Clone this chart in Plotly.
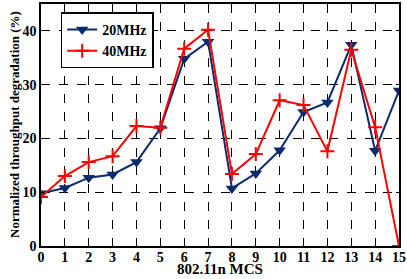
import plotly.graph_objects as go

mcs = list(range(16))
tick_labels = [str(i) for i in mcs]
deg_20mhz = [9.8, 10.8, 12.7, 13.3, 15.6, 21.9, 34.8, 38.0, 10.7, 13.5, 17.8, 24.9, 26.7, 37.4, 17.7, 28.9]
deg_40mhz = [9.1, 13.0, 15.6, 16.7, 22.3, 22.0, 36.7, 40.2, 13.4, 17.1, 27.1, 26.2, 17.6, 36.5, 22.1, 0.0]

font = dict(family="Liberation Serif", size=13, color="black")

fig = go.Figure()
fig.add_trace(go.Scatter(x=mcs, y=deg_20mhz, name="<b>20MHz</b>", mode="lines+markers",
                         line=dict(color="#0c2a6e", width=2),
                         marker=dict(symbol="triangle-down", size=11, color="#0c2a6e")))
fig.add_trace(go.Scatter(x=mcs, y=deg_40mhz, name="<b>40MHz</b>", mode="lines+markers",
                         line=dict(color="#ff0000", width=2),
                         marker=dict(symbol="cross-thin", size=10, color="#ff0000",
                                     line=dict(color="#ff0000", width=2))))

axis_common = dict(showline=True, linecolor="black", linewidth=1.5, mirror="ticks",
                   showgrid=True, gridcolor="black", griddash="dash", gridwidth=1,
                   ticks="inside", ticklen=3, tickcolor="black", tickwidth=1,
                   zeroline=False, automargin=False,
                   tickfont=dict(family="Liberation Serif", size=14, color="black"))

fig.update_xaxes(range=[0, 15], tickvals=mcs, ticktext=[f"<b>{t}</b>" for t in tick_labels],
                 ticklabelstandoff=-3, **axis_common)
fig.update_yaxes(range=[0, 45], tickvals=[0, 10, 20, 30, 40],
                 ticktext=["<b>0</b>", "<b>10</b>", "<b>20</b>", "<b>30</b>", "<b>40</b>"],
                 **axis_common)

fig.add_annotation(text="<b>802.11n MCS</b>", xref="paper", yref="paper", x=0.5, y=0,
                   xanchor="center", yanchor="bottom", yshift=-33, showarrow=False,
                   font=dict(family="Liberation Serif", size=15, color="black"))
fig.add_annotation(text="<b>Normalized throughput degradation (%)</b>", xref="paper", yref="paper",
                   x=0, y=0.5, xanchor="center", yanchor="middle", xshift=-27, textangle=-90,
                   showarrow=False, font=dict(family="Liberation Serif", size=13, color="black"))

fig.update_layout(width=407, height=279, margin=dict(l=41, r=8, t=4, b=33),
                  plot_bgcolor="white", paper_bgcolor="white", font=font,
                  legend=dict(x=0.055, y=0.965, xanchor="left", yanchor="top",
                              bgcolor="white", bordercolor="black", borderwidth=1.5,
                              font=dict(family="Liberation Serif", size=14, color="black"),
                              tracegroupgap=0, itemwidth=30))
fig.write_html("out.html", config={"displayModeBar": False},
               post_script="document.body.style.margin='0';document.body.style.overflow='hidden';")
